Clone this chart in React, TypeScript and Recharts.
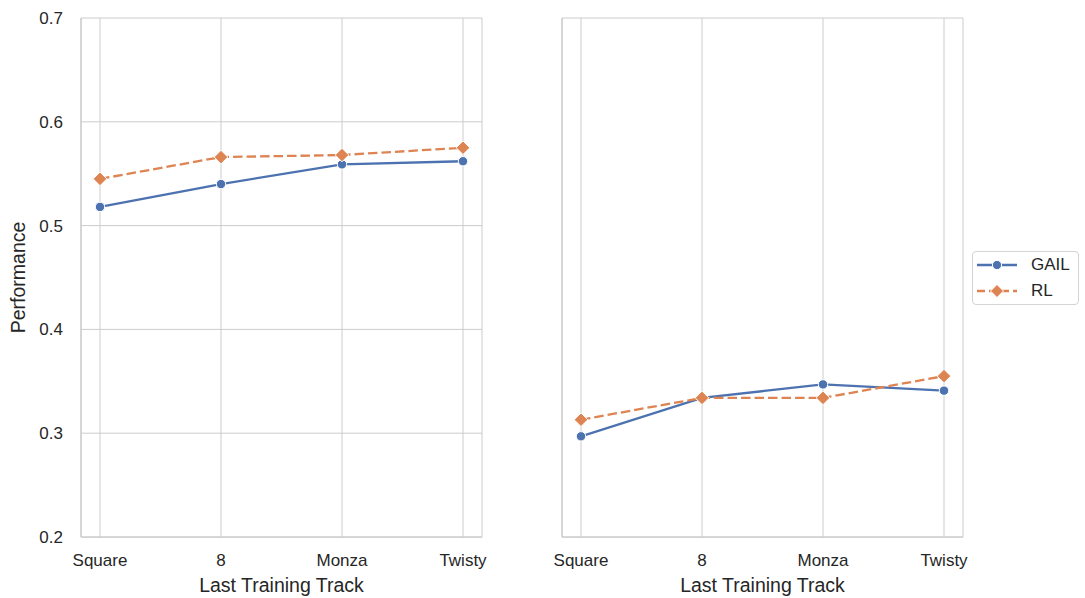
import React from 'react';
import { LineChart, Line, XAxis, YAxis, CartesianGrid, Legend } from 'recharts';

const tracks = ['Square', '8', 'Monza', 'Twisty'];
const gailLeft = [0.518, 0.540, 0.559, 0.562];
const rlLeft = [0.545, 0.566, 0.568, 0.575];
const gailRight = [0.297, 0.334, 0.347, 0.341];
const rlRight = [0.313, 0.334, 0.334, 0.355];
const yTicks = [0.2, 0.3, 0.4, 0.5, 0.6, 0.7];
const yDomain = [0.2, 0.7];
const xLabel = 'Last Training Track';
const yLabel = 'Performance';

const BLUE = '#4C72B0';
const ORANGE = '#DD8452';
const GRID = '#cccccc';
const TEXT = '#262626';
const FONT = '"Liberation Sans", Arial, sans-serif';
const DASH = '9.5 4';

const build = (g: number[], r: number[]) =>
  tracks.map((t, i) => ({ track: t, GAIL: g[i], RL: r[i] }));

const leftData = build(gailLeft, rlLeft);
const rightData = build(gailRight, rlRight);

const CircleDot = (props: any) => {
  const { cx, cy, index } = props;
  if (cx == null || cy == null) return <g key={`c-${index}`} />;
  return <circle key={`c-${index}`} cx={cx} cy={cy} r={4.7} fill={BLUE} stroke="#ffffff" strokeWidth={1} />;
};

const DiamondDot = (props: any) => {
  const { cx, cy, index } = props;
  if (cx == null || cy == null) return <g key={`d-${index}`} />;
  const s = 6.8;
  return (
    <polygon
      key={`d-${index}`}
      points={`${cx},${cy - s} ${cx + s},${cy} ${cx},${cy + s} ${cx - s},${cy}`}
      fill={ORANGE}
      stroke="#ffffff"
      strokeWidth={1}
    />
  );
};

const renderLegend = (props: any) => {
  const payload = props.payload || [];
  return (
    <div
      style={{
        boxSizing: 'border-box',
        width: 107,
        height: 54,
        border: '1px solid #d4d4d4',
        borderRadius: 4,
        background: '#ffffff',
        fontFamily: FONT,
        fontSize: 17,
        color: TEXT,
        paddingTop: 0,
      }}
    >
      {payload.map((p: any, i: number) => (
        <div key={i} style={{ display: 'flex', alignItems: 'center', height: 26 }}>
          <svg width={40} height={14} style={{ marginLeft: 4, marginRight: 14 }}>
            <line
              x1={0}
              y1={7}
              x2={40}
              y2={7}
              stroke={p.color}
              strokeWidth={2.3}
              strokeDasharray={i === 1 ? '8 4' : undefined}
            />
            {i === 0 ? (
              <circle cx={20} cy={7} r={4.6} fill={p.color} stroke="#fff" strokeWidth={1} />
            ) : (
              <polygon points="20,0.5 26.5,7 20,13.5 13.5,7" fill={p.color} stroke="#fff" strokeWidth={1} />
            )}
          </svg>
          <span>{p.value}</span>
        </div>
      ))}
    </div>
  );
};

const tickStyle = { fill: TEXT, fontSize: 17, fontFamily: FONT };
const spine = { stroke: GRID, strokeWidth: 1.25 };

function Panel(props: { data: any[]; left: number; width: number; marginRight: number; showY: boolean; legend?: boolean }) {
  const { data, left, width, marginRight, showY, legend } = props;
  return (
    <div style={{ position: 'absolute', left, top: 0 }}>
      <LineChart width={width} height={598} data={data} margin={{ top: 18, right: marginRight, bottom: 0, left: 0 }}>
        <CartesianGrid stroke={GRID} strokeWidth={1} />
        <XAxis
          dataKey="track"
          padding={{ left: 19, right: 19 }}
          height={61}
          tickLine={false}
          axisLine={spine}
          tick={tickStyle}
          tickMargin={11}
          interval={0}
          label={{ value: xLabel, position: 'insideBottom', offset: 6, fill: TEXT, fontSize: 19.5, fontFamily: FONT }}
        />
        <XAxis xAxisId="top" orientation="top" height={0} tick={false} tickLine={false} axisLine={spine} />
        <YAxis
          domain={yDomain}
          ticks={yTicks}
          width={showY ? 81 : 61}
          tickLine={false}
          axisLine={spine}
          tick={showY ? tickStyle : false}
          tickMargin={12}
          tickFormatter={(v: number) => v.toFixed(1)}
          label={
            showY
              ? {
                  content: (p: any) => {
                    const vb = p.viewBox || { x: 0, y: 18, width: 81, height: 519 };
                    return (
                      <text
                        transform={`translate(${vb.x + 25}, ${vb.y + vb.height / 2}) rotate(-90)`}
                        textAnchor="middle"
                        fill={TEXT}
                        fontSize={19.5}
                        fontFamily={FONT}
                      >
                        {yLabel}
                      </text>
                    );
                  },
                }
              : undefined
          }
        />
        <YAxis yAxisId="right" orientation="right" width={0} domain={yDomain} ticks={yTicks} tick={false} tickLine={false} axisLine={spine} />
        <Line
          dataKey="GAIL"
          name="GAIL"
          stroke={BLUE}
          strokeWidth={2.3}
          dot={CircleDot}
          activeDot={false}
          isAnimationActive={false}
        />
        <Line
          dataKey="RL"
          name="RL"
          stroke={ORANGE}
          strokeWidth={2.3}
          strokeDasharray={DASH}
          dot={DiamondDot}
          activeDot={false}
          isAnimationActive={false}
        />
        {legend ? (
          <Legend
            layout="vertical"
            align="center"
            verticalAlign="middle"
            wrapperStyle={{ left: 471, top: 251, width: 107, height: 54 }}
            content={renderLegend}
          />
        ) : null}
      </LineChart>
    </div>
  );
}

export default function App() {
  return (
    <div style={{ position: 'absolute', left: 0, top: 0, width: 1085, height: 598, background: '#ffffff', overflow: 'hidden' }}>
      <Panel data={leftData} left={0} width={500} marginRight={18} showY={true} />
      <Panel data={rightData} left={501} width={584} marginRight={122} showY={false} legend={true} />
    </div>
  );
}
